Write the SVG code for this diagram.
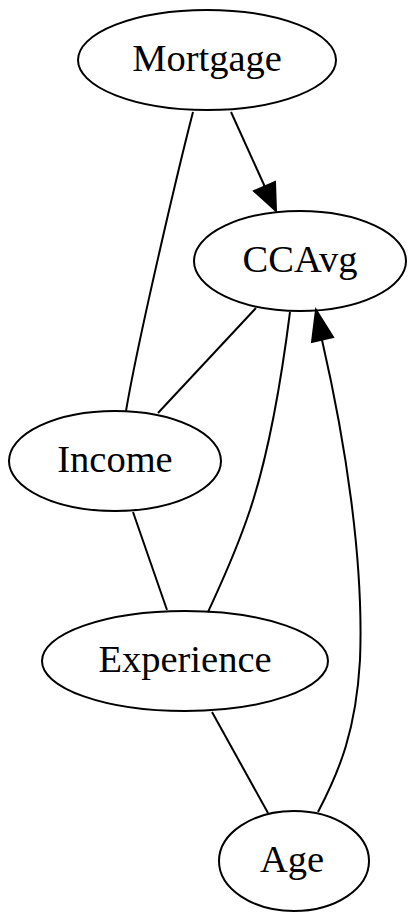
<svg xmlns="http://www.w3.org/2000/svg" width="417" height="922" viewBox="0 0 417 922">
<style>
.n ellipse{fill:none;stroke:#000;stroke-width:2}
.n text{font-family:"Liberation Serif","Times New Roman",serif;font-size:38.5px;text-anchor:middle;fill:#000}
.e path{fill:none;stroke:#000;stroke-width:2}
.e polygon{fill:#000;stroke:#000;stroke-width:2}
</style>
<rect width="417" height="922" fill="#fff"/>
<g id="edges" class="e">
<path d="M231,112 L265,187"/>
<polygon points="254,191 276,211 275,182"/>
<path d="M193,112 C178,170 138,340 126,411"/>
<path d="M256,308 L158,413"/>
<path d="M290,312 C282,375 270,450 250,510 C235,555 218,590 208,612"/>
<path d="M133,512 L167,610"/>
<path d="M212,712 L268,813"/>
<path d="M318,812 C340,770 356,730 360,660 C364,560 345,440 322,340"/>
<polygon points="312,342 316,310 333,337"/>
</g>
<g id="Mortgage" class="n"><ellipse cx="207" cy="60" rx="129" ry="50"/><text x="207" y="71">Mortgage</text></g>
<g id="CCAvg" class="n"><ellipse cx="300" cy="261" rx="106" ry="50"/><text x="300" y="272">CCAvg</text></g>
<g id="Income" class="n"><ellipse cx="115" cy="461" rx="106" ry="50"/><text x="115" y="472">Income</text></g>
<g id="Experience" class="n"><ellipse cx="185" cy="661" rx="143" ry="50"/><text x="185" y="672">Experience</text></g>
<g id="Age" class="n"><ellipse cx="294" cy="861" rx="75" ry="50"/><text x="292" y="872">Age</text></g>
</svg>
